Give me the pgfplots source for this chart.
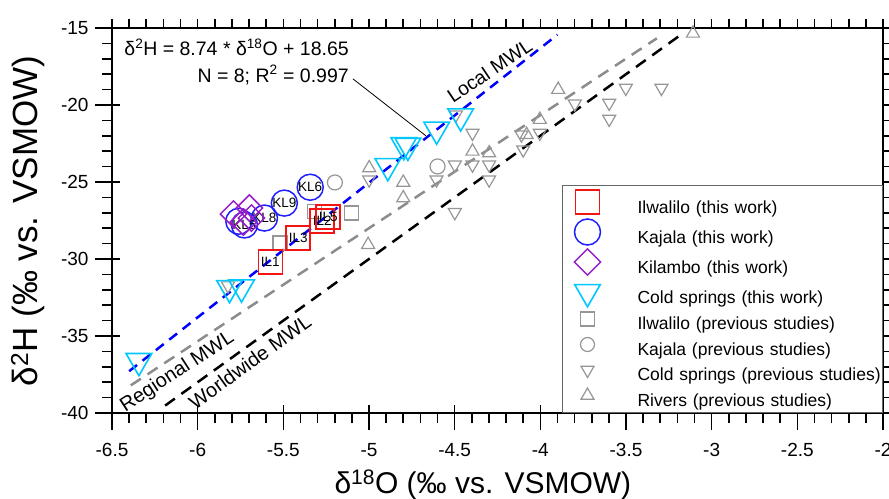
\documentclass[border=0pt]{standalone}
\usepackage{fontspec}
\setmainfont{Liberation Sans}
\usepackage{pgfplots}
\pgfplotsset{compat=1.18}
\usetikzlibrary{plotmarks}
\definecolor{cyanT}{RGB}{0,200,255}
\definecolor{purpK}{RGB}{150,30,200}
\definecolor{blueK}{RGB}{30,30,255}
\definecolor{grayP}{RGB}{150,150,150}
\definecolor{grayL}{RGB}{140,140,140}
\definecolor{redI}{RGB}{245,20,20}
\pgfplotsset{
  base/.style={at={(0,0)}, anchor=south west, scale only axis,
    width=771bp, height=385bp,
    xmin=-6.5, xmax=-2, ymin=-40, ymax=-15,
    xtick={-6.5,-6,-5.5,-5,-4.5,-4,-3.5,-3,-2.5,-2},
    ytick={-40,-35,-30,-25,-20,-15},
    minor x tick num=4, minor y tick num=4,
    axis line style={line width=2bp},
    tick style={black, line width=1.6bp}},
  bigleg/.style={legend image code/.code={\path[draw=none,fill=none] (-25bp,-9bp) rectangle (25bp,21bp); \draw[##1] plot coordinates {(0bp,7bp)};}},
  smallleg/.style={legend image code/.code={\path[draw=none,fill=none] (-25bp,-5bp) rectangle (25bp,17bp); \draw[##1] plot coordinates {(0bp,6bp)};}},
}
\begin{document}
\begin{tikzpicture}
% top/right outward ticks
\begin{axis}[base, xtick pos=right, ytick pos=right, tick align=outside,
  major tick length=9bp, minor tick length=9bp, xticklabels={}, yticklabels={}]
\end{axis}
% inward part of bottom/left major ticks
\begin{axis}[base, xtick pos=left, ytick pos=left, tick align=inside,
  major tick length=8bp, minor x tick num=0, minor y tick num=0, xticklabels={}, yticklabels={}]
\end{axis}
\begin{axis}[base, xtick pos=left, ytick pos=left, tick align=outside,
  major tick length=17bp, minor tick length=10bp,
  /pgf/number format/assume math mode=true,
  tick label style={font=\fontsize{19bp}{20bp}\selectfont},
  xticklabel style={yshift=-10bp},
  yticklabel style={xshift=-3bp},
  xlabel={δ\textsuperscript{18}O (‰ vs. VSMOW)},
  ylabel={δ\textsuperscript{2}H (‰ vs. VSMOW)},
  xlabel style={font=\fontsize{30bp}{32bp}\selectfont, at={(axis description cs:0.481,-0.2078)}, anchor=base},
  ylabel style={font=\fontsize{35bp}{36bp}\selectfont, at={(axis description cs:-0.097,0.499)}, anchor=base},
  legend style={at={(rel axis cs:1,0)}, anchor=south east, draw=black!60, line width=1bp,
    fill=white, inner xsep=0bp, inner ysep=2.5bp, column sep=25bp, row sep=0bp,
    font=\fontsize{17.5bp}{20bp}\selectfont,
    nodes={draw=none, inner sep=0bp, text width=245bp, align=left, text height=13bp, text depth=4bp}},
  legend cell align=left,
]
% meteoric water lines
\addplot[forget plot, grayL, line width=2.5bp, dash pattern=on 12bp off 8bp] coordinates {(-6.39,-38.203) (-3.32,-15.669)};
\addplot[forget plot, black, line width=2.5bp, dash pattern=on 12bp off 8bp] coordinates {(-6.19,-39.52) (-3.19,-15.52)};
\addplot[forget plot, blue, line width=2.5bp, dash pattern=on 10bp off 7bp] coordinates {(-6.40,-37.286) (-3.90,-15.436)};
% previous studies (gray)
\addplot[forget plot, only marks, mark=square, mark size=7bp, mark options={draw=grayP, line width=1.2bp}] coordinates {
(-5.101,-27.01) (-5.52,-28.96) (-5.316,-26.9)};
\addplot[forget plot, only marks, mark=o, mark size=7.5bp, mark options={draw=grayP, line width=1.2bp}] coordinates {
(-5.199,-25.03) (-4.60,-23.99)};
\addplot[forget plot, only marks, mark=triangle, mark size=7.5bp, mark options={draw=grayP, line width=1.2bp, rotate=180}] coordinates {
(-5.823,-31.73) (-4.999,-24.85) (-4.606,-24.85) (-4.499,-23.88) (-4.499,-26.97)
(-4.493,-20.63) (-4.396,-21.82) (-4.396,-23.88) (-4.299,-23.88) (-4.299,-24.85)
(-4.10,-22.90) (-4.003,-21.82) (-4.11,-21.93) (-3.799,-19.92) (-3.598,-19.87)
(-3.598,-20.91) (-3.501,-18.90) (-3.293,-18.90)};
\addplot[forget plot, only marks, mark=triangle, mark size=7.5bp, mark options={draw=grayP, line width=1.2bp}] coordinates {
(-4.999,-24.09) (-4.80,-25.03) (-4.80,-26.04) (-4.396,-23.01) (-4.299,-23.12)
(-4.08,-21.93) (-4.003,-20.95) (-3.896,-19.00) (-3.109,-15.35) (-5.005,-29.07)};
% this work
\addplot[bigleg, only marks, mark=square, mark size=12bp, mark options={draw=redI, line width=1.5bp},
  nodes near coords, point meta=explicit symbolic,
  every node near coord/.append style={anchor=center, text=black, font=\fontsize{13.5bp}{14bp}\selectfont}] coordinates {
(-5.576,-30.18) [IL1] (-5.413,-28.63) [IL3] (-5.273,-27.53) [IL2] (-5.238,-27.27) [IL5]};
\addlegendentry{Ilwalilo (this work)}
\addplot[bigleg, only marks, mark=o, mark size=13bp, mark options={draw=blueK, line width=1.5bp},
  nodes near coords, point meta=explicit symbolic,
  every node near coord/.append style={anchor=center, text=black, font=\fontsize{13.5bp}{14bp}\selectfont}] coordinates {
(-5.343,-25.34) [KL6] (-5.494,-26.37) [KL9] (-5.61,-27.34) [KL8] (-5.76,-27.55) [] (-5.727,-27.79) [KL5]};
\addlegendentry{Kajala (this work)}
\addplot[bigleg, only marks, mark=square, mark size=9.3bp, mark options={draw=purpK, line width=1.5bp, rotate=45}] coordinates {
(-5.791,-27.08) (-5.698,-26.69) (-5.686,-27.34) (-5.733,-27.6)};
\addlegendentry{Kilambo (this work)}
\addplot[bigleg, only marks, mark=triangle, mark size=14.8bp, mark options={draw=cyanT, line width=1.6bp, rotate=180}] coordinates {
(-6.343,-36.62) (-5.814,-31.88) (-5.744,-31.84) (-4.89,-23.96) (-4.797,-22.60)
(-4.773,-22.64) (-4.605,-21.59) (-4.465,-20.73)};
\addlegendentry{Cold springs (this work)}
\addlegendimage{smallleg, only marks, mark=square, mark size=7bp, mark options={draw=grayP, line width=1.2bp}}
\addlegendentry{Ilwalilo (previous studies)}
\addlegendimage{smallleg, only marks, mark=o, mark size=7bp, mark options={draw=grayP, line width=1.2bp}}
\addlegendentry{Kajala (previous studies)}
\addlegendimage{smallleg, only marks, mark=triangle, mark size=7.5bp, mark options={draw=grayP, line width=1.2bp, rotate=180}}
\addlegendentry{Cold springs (previous studies)}
\addlegendimage{smallleg, only marks, mark=triangle, mark size=7.5bp, mark options={draw=grayP, line width=1.2bp}}
\addlegendentry{Rivers (previous studies)}
% annotations
\node[anchor=base east, font=\fontsize{19.5bp}{20bp}\selectfont, inner sep=0pt] at (axis cs:-5.117,-16.80) {δ\textsuperscript{2}H = 8.74 * δ\textsuperscript{18}O + 18.65};
\node[anchor=base east, font=\fontsize{19.5bp}{20bp}\selectfont, inner sep=0pt] at (axis cs:-5.117,-18.53) {N = 8; R\textsuperscript{2} = 0.997};
\draw[black, line width=0.8bp] (axis cs:-5.094,-18.30) -- (axis cs:-4.668,-22.0);
\node[rotate=34, font=\fontsize{19.5bp}{20bp}\selectfont, inner sep=0pt] at (axis cs:-4.296,-17.78) {Local MWL};
\node[rotate=33, font=\fontsize{20bp}{20bp}\selectfont, inner sep=0pt] at (axis cs:-6.118,-37.35) {Regional MWL};
\node[rotate=36, font=\fontsize{20bp}{20bp}\selectfont, inner sep=0pt] at (axis cs:-5.695,-36.67) {Worldwide MWL};
\end{axis}
\pgfresetboundingbox
\useasboundingbox (-112bp,-86bp) rectangle (777bp,413bp);
\end{tikzpicture}
\end{document}
